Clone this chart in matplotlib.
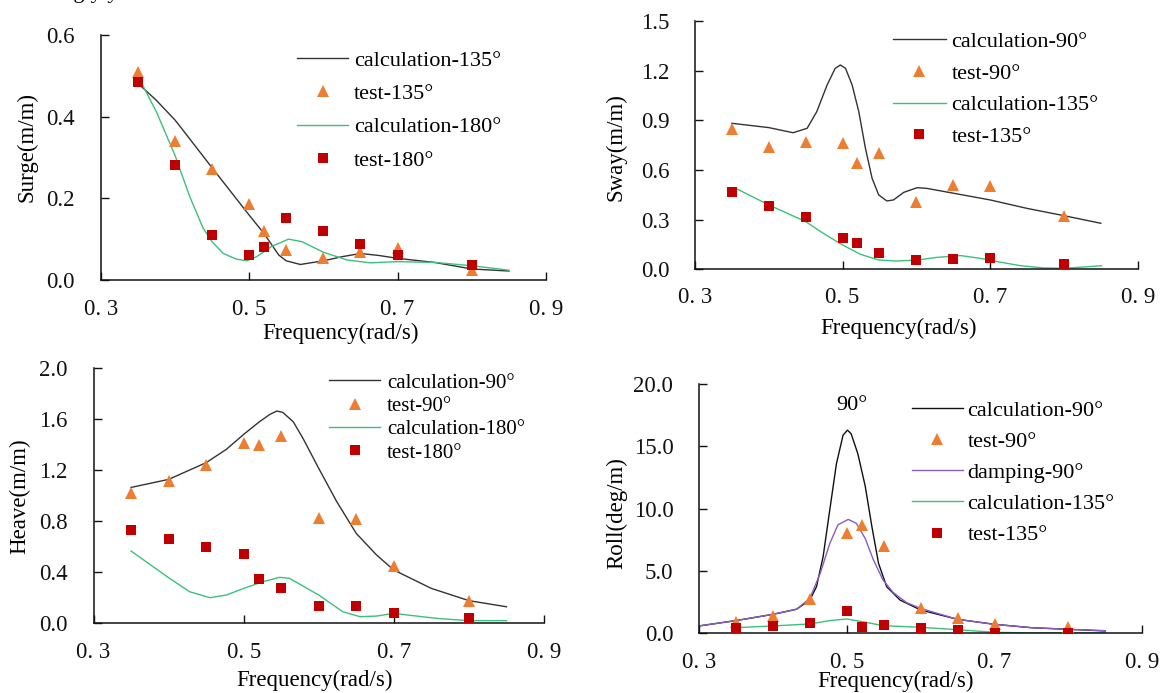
import matplotlib
matplotlib.use("Agg")
import matplotlib.pyplot as plt
from matplotlib.ticker import FormatStrFormatter

plt.rcParams['font.family'] = ['Liberation Serif', 'DejaVu Serif']

W, H = 1164, 693

# ---------------- data ----------------
test_freq = [0.35, 0.40, 0.45, 0.50, 0.52, 0.55, 0.60, 0.65, 0.70, 0.80]

# Surge
surge_test135 = [0.509, 0.341, 0.272, 0.185, 0.121, 0.073, 0.053, 0.068, 0.078, 0.024]
surge_test180 = [0.486, 0.282, 0.109, 0.061, 0.081, 0.153, 0.121, 0.087, 0.060, 0.037]
surge_calc135_f = [0.35, 0.375, 0.40, 0.407, 0.45, 0.50, 0.52, 0.54, 0.55, 0.569, 0.60, 0.625, 0.65, 0.675, 0.70, 0.75, 0.80, 0.85]
surge_calc135_v = [0.482, 0.44, 0.392, 0.376, 0.275, 0.159, 0.114, 0.061, 0.047, 0.038, 0.047, 0.057, 0.065, 0.060, 0.053, 0.043, 0.027, 0.022]
surge_calc180_f = [0.35, 0.375, 0.40, 0.42, 0.438, 0.45, 0.465, 0.483, 0.497, 0.51, 0.53, 0.553, 0.571, 0.60, 0.632, 0.663, 0.70, 0.75, 0.80, 0.85]
surge_calc180_v = [0.50, 0.412, 0.306, 0.204, 0.127, 0.094, 0.065, 0.051, 0.047, 0.057, 0.082, 0.100, 0.094, 0.068, 0.049, 0.042, 0.045, 0.043, 0.035, 0.024]

# Sway
sway_test90 = [0.848, 0.741, 0.767, 0.765, 0.640, 0.705, 0.409, 0.509, 0.503, 0.324]
sway_test135 = [0.469, 0.385, 0.314, 0.191, 0.161, 0.097, 0.056, 0.060, 0.066, 0.030]
sway_calc90_f = [0.35, 0.40, 0.433, 0.452, 0.465, 0.479, 0.49, 0.497, 0.504, 0.513, 0.522, 0.531, 0.540, 0.549, 0.56, 0.569, 0.583, 0.601, 0.614, 0.651, 0.70, 0.75, 0.80, 0.85]
sway_calc90_v = [0.882, 0.856, 0.825, 0.852, 0.952, 1.113, 1.214, 1.234, 1.214, 1.113, 0.952, 0.731, 0.550, 0.449, 0.413, 0.419, 0.465, 0.493, 0.489, 0.459, 0.419, 0.368, 0.324, 0.278]
sway_calc135_f = [0.357, 0.40, 0.45, 0.474, 0.50, 0.524, 0.549, 0.574, 0.601, 0.628, 0.66, 0.687, 0.71, 0.741, 0.773, 0.80, 0.827, 0.851]
sway_calc135_v = [0.485, 0.389, 0.288, 0.217, 0.147, 0.091, 0.056, 0.050, 0.056, 0.072, 0.083, 0.066, 0.046, 0.022, 0.008, 0.006, 0.014, 0.022]

# Heave
heave_test90 = [1.014, 1.114, 1.237, 1.407, 1.393, 1.467, 0.818, 0.810, 0.447, 0.173]
heave_test180 = [0.727, 0.656, 0.596, 0.536, 0.342, 0.275, 0.133, 0.133, 0.073, 0.034]
heave_calc90_f = [0.35, 0.40, 0.45, 0.477, 0.50, 0.521, 0.535, 0.544, 0.552, 0.566, 0.579, 0.60, 0.624, 0.65, 0.677, 0.70, 0.75, 0.80, 0.85]
heave_calc90_v = [1.061, 1.124, 1.255, 1.360, 1.477, 1.576, 1.634, 1.660, 1.650, 1.576, 1.446, 1.210, 0.949, 0.700, 0.531, 0.413, 0.269, 0.173, 0.125]
heave_calc180_f = [0.35, 0.40, 0.428, 0.455, 0.477, 0.50, 0.526, 0.548, 0.561, 0.60, 0.632, 0.655, 0.677, 0.70, 0.726, 0.757, 0.80, 0.85]
heave_calc180_v = [0.562, 0.353, 0.243, 0.196, 0.217, 0.269, 0.322, 0.356, 0.348, 0.217, 0.086, 0.047, 0.052, 0.073, 0.055, 0.034, 0.016, 0.016]

# Roll
roll_test90 = [0.88, 1.39, 2.73, 8.07, 8.72, 7.03, 2.00, 1.20, 0.75, 0.48]
roll_test135 = [0.45, 0.59, 0.86, 1.82, 0.53, 0.64, 0.45, 0.27, 0.03, 0.03]
roll_calc90_f = [0.30, 0.35, 0.40, 0.432, 0.45, 0.459, 0.468, 0.477, 0.486, 0.495, 0.501, 0.506, 0.515, 0.525, 0.534, 0.543, 0.554, 0.572, 0.60, 0.65, 0.70, 0.75, 0.80, 0.85]
roll_calc90_v = [0.59, 1.02, 1.52, 1.93, 2.67, 3.74, 6.15, 9.9, 13.6, 15.9, 16.3, 16.0, 14.4, 11.8, 8.56, 5.61, 3.74, 2.67, 1.87, 1.12, 0.72, 0.45, 0.32, 0.19]
roll_damp90_f = [0.30, 0.35, 0.40, 0.432, 0.45, 0.464, 0.477, 0.488, 0.502, 0.513, 0.525, 0.536, 0.549, 0.563, 0.581, 0.60, 0.65, 0.70, 0.75, 0.80, 0.85]
roll_damp90_v = [0.59, 1.02, 1.52, 1.93, 2.80, 4.80, 7.20, 8.70, 9.14, 8.82, 7.60, 5.90, 4.28, 3.26, 2.46, 2.00, 1.12, 0.72, 0.45, 0.32, 0.21]
roll_calc135_f = [0.35, 0.40, 0.45, 0.477, 0.50, 0.52, 0.55, 0.60, 0.65, 0.70, 0.75, 0.80, 0.85]
roll_calc135_v = [0.45, 0.59, 0.75, 1.02, 1.15, 0.94, 0.61, 0.48, 0.29, 0.08, 0.03, 0.03, 0.03]

x_ticks = [0.3, 0.5, 0.7, 0.9]
x_tick_labels = ["0. 3", "0. 5", "0. 7", "0. 9"]
surge_yticks = [0.0, 0.2, 0.4, 0.6]
sway_yticks = [0.0, 0.3, 0.6, 0.9, 1.2, 1.5]
heave_yticks = [0.0, 0.4, 0.8, 1.2, 1.6, 2.0]
roll_yticks = [0.0, 5.0, 10.0, 15.0, 20.0]

# ---------------- style ----------------
C_BLACK = '#333333'
C_GREEN = '#3cc07c'
C_PURPLE = '#8a5cc2'
C_ORANGE = '#ed7d31'
C_RED = '#c00000'
LW = 1.0
TRI_MS = 8.0
SQ_MS = 7.2

fig = plt.figure(figsize=(W / 100, H / 100), dpi=100)


def rect(l, r, t, b):
    return [l / W, 1 - b / H, (r - l) / W, (b - t) / H]


def style_axes(ax, yticks, ymax, xpad):
    ax.set_xlim(0.3, 0.9)
    ax.set_ylim(0, ymax)
    for s in ['top', 'right']:
        ax.spines[s].set_visible(False)
    for s in ['left', 'bottom']:
        ax.spines[s].set_linewidth(1.1)
        ax.spines[s].set_color('#111111')
    ax.set_xticks(x_ticks)
    ax.set_xticklabels(x_tick_labels)
    ax.set_yticks(yticks)
    ax.yaxis.set_major_formatter(FormatStrFormatter('%.1f'))
    ax.tick_params(axis='both', direction='in', length=5.5, width=1.0, labelsize=16.5, colors='#111111')
    ax.tick_params(axis='x', pad=xpad)
    ax.tick_params(axis='y', pad=18.5)


def put_labels(ax, xl, xpos, yl, ypos):
    ax.set_xlabel(xl, fontsize=16.5)
    ax.xaxis.set_label_coords(xpos[0] / W, 1 - xpos[1] / H, transform=fig.transFigure)
    ax.xaxis.label.set_va('center')
    ax.set_ylabel(yl, fontsize=16.5)
    ax.yaxis.set_label_coords(ypos[0] / W, 1 - ypos[1] / H, transform=fig.transFigure)
    ax.yaxis.label.set_va('center')


def put_legend(ax, handles, x, ytop, fs, hl, htp, ls):
    ax.legend(handles=handles, loc='upper left', bbox_to_anchor=(x / W, 1 - ytop / H),
              bbox_transform=fig.transFigure, frameon=False, fontsize=fs,
              handlelength=hl, handletextpad=htp, labelspacing=ls,
              borderpad=0, borderaxespad=0, numpoints=1)


# ---- Surge ----
ax1 = fig.add_axes(rect(100.7, 546, 35, 280))
l1, = ax1.plot(surge_calc135_f, surge_calc135_v, color=C_BLACK, lw=LW, label='calculation-135°', zorder=2)
l2, = ax1.plot(surge_calc180_f, surge_calc180_v, color=C_GREEN, lw=LW, label='calculation-180°', zorder=2)
m1, = ax1.plot(test_freq, surge_test135, '^', color=C_ORANGE, ms=TRI_MS, mew=0, label='test-135°', zorder=3)
m2, = ax1.plot(test_freq, surge_test180, 's', color=C_RED, ms=SQ_MS, mew=0, label='test-180°', zorder=4)
style_axes(ax1, surge_yticks, 0.6, 13.5)
put_labels(ax1, 'Frequency(rad/s)', (341, 333), 'Surge(m/m)', (27, 147))
put_legend(ax1, [l1, m1, l2, m2], 297, 50.5, 16, 2.3, 0.27, 0.57)

# ---- Sway ----
ax2 = fig.add_axes(rect(695, 1137.7, 21, 269.3))
l1, = ax2.plot(sway_calc90_f, sway_calc90_v, color=C_BLACK, lw=LW, label='calculation-90°', zorder=2)
l2, = ax2.plot(sway_calc135_f, sway_calc135_v, color=C_GREEN, lw=LW, label='calculation-135°', zorder=2)
m1, = ax2.plot(test_freq, sway_test90, '^', color=C_ORANGE, ms=TRI_MS, mew=0, label='test-90°', zorder=3)
m2, = ax2.plot(test_freq, sway_test135, 's', color=C_RED, ms=SQ_MS, mew=0, label='test-135°', zorder=4)
style_axes(ax2, sway_yticks, 1.5, 12.8)
put_labels(ax2, 'Frequency(rad/s)', (898.6, 328), 'Sway(m/m)', (615.7, 147))
put_legend(ax2, [l1, m1, l2, m2], 893.3, 31.5, 16, 2.35, 0.27, 0.5)

# ---- Heave ----
ax3 = fig.add_axes(rect(93.5, 544, 367.7, 622.7))
l1, = ax3.plot(heave_calc90_f, heave_calc90_v, color=C_BLACK, lw=LW, label='calculation-90°', zorder=2)
l2, = ax3.plot(heave_calc180_f, heave_calc180_v, color=C_GREEN, lw=LW, label='calculation-180°', zorder=2)
m1, = ax3.plot(test_freq, heave_test90, '^', color=C_ORANGE, ms=TRI_MS, mew=0, label='test-90°', zorder=3)
m2, = ax3.plot(test_freq, heave_test180, 's', color=C_RED, ms=SQ_MS, mew=0, label='test-180°', zorder=4)
style_axes(ax3, heave_yticks, 2.0, 13.8)
put_labels(ax3, 'Frequency(rad/s)', (314.9, 680), 'Heave(m/m)', (19.3, 496))
put_legend(ax3, [l1, m1, l2, m2], 329.3, 373, 15, 2.44, 0.32, 0.18)

# ---- Roll ----
ax4 = fig.add_axes(rect(699, 1142.3, 384, 633.3))
l1, = ax4.plot(roll_calc90_f, roll_calc90_v, color='#111111', lw=LW, label='calculation-90°', zorder=2)
l3, = ax4.plot(roll_damp90_f, roll_damp90_v, color=C_PURPLE, lw=LW, label='damping-90°', zorder=2)
l2, = ax4.plot(roll_calc135_f, roll_calc135_v, color=C_GREEN, lw=LW, label='calculation-135°', zorder=2)
m1, = ax4.plot(test_freq, roll_test90, '^', color=C_ORANGE, ms=TRI_MS, mew=0, label='test-90°', zorder=3)
m2, = ax4.plot(test_freq, roll_test135, 's', color=C_RED, ms=SQ_MS, mew=0, label='test-135°', zorder=4)
style_axes(ax4, roll_yticks, 20.0, 13.5)
put_labels(ax4, 'Frequency(rad/s)', (896, 681), 'Roll(deg/m)', (616.6, 513))
put_legend(ax4, [l1, m1, l3, l2, m2], 911.7, 400, 16, 2.3, 0.21, 0.48)
ax4.text(0.507, 18.3, '90°', fontsize=16, ha='center', va='center')

# cropped text fragment at top edge (only descenders visible)
fig.text(56 / W, 1 + 2 / H, 'ingly y', fontsize=16, ha='left', va='baseline')

fig.savefig('out.png', dpi=100)
